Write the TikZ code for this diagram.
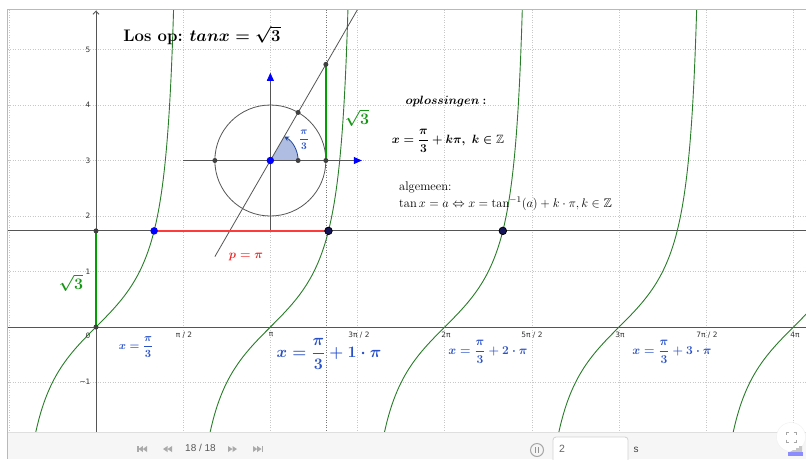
\documentclass[tikz,border=0pt]{standalone}
\usepackage{fix-cm}
\usepackage{amsmath,amssymb}
\usepackage{fontspec}
\newfontfamily\uifont{Liberation Sans}
\newfontfamily\tickfont{DejaVu Sans}
\usetikzlibrary{arrows.meta,calc}
\definecolor{curvegreen}{RGB}{40,125,40}
\definecolor{seggreen}{RGB}{0,160,0}
\definecolor{txtgreen}{RGB}{20,150,20}
\definecolor{txtred}{RGB}{240,40,40}
\definecolor{segred}{RGB}{255,60,60}
\definecolor{lblue}{RGB}{40,80,200}
\definecolor{axisgrey}{RGB}{85,85,85}
\definecolor{gridgrey}{RGB}{200,200,200}
\definecolor{ptgrey}{RGB}{64,64,64}
\definecolor{navy}{RGB}{20,20,90}
\definecolor{sectorfill}{RGB}{160,178,220}
\definecolor{sectorline}{RGB}{30,70,160}
\definecolor{barbg}{RGB}{246,246,246}
\definecolor{iconGrey}{RGB}{170,170,170}
\newcommand{\bm}[1]{{\boldmath$#1$}}
\begin{document}
\begin{tikzpicture}[x=1pt,y=-1pt,
  gridline/.style={draw=gridgrey,line width=0.6pt,dash pattern=on 1pt off 1.5pt},
  axisline/.style={draw=axisgrey,line width=0.9pt},
  thinline/.style={draw=axisgrey,line width=0.8pt},
  curvestyle/.style={draw=curvegreen,line width=0.9pt},
  ptdark/.style={circle,fill=ptgrey,inner sep=0pt,minimum size=5pt},
  ptblue/.style={circle,fill=blue,inner sep=0pt,minimum size=7.5pt},
  ptnavy/.style={circle,fill=navy,draw=black,line width=0.8pt,inner sep=0pt,minimum size=7.5pt},
  ticklbl/.style={font=\tickfont\fontsize{7.4}{8}\selectfont,text=black!80,inner sep=0pt},
  bluetxt/.style={text=lblue,inner sep=0pt},
]
\useasboundingbox (0,0) rectangle (806,459);
\fill[white] (0,0) rectangle (806,459);
\begin{scope}
\clip (7,9) rectangle (806,432);
\begin{scope}[shift={(96pt,-327pt)},x=55.5pt,y=55.5pt]
  \foreach \k in {-1,...,9} \draw[gridline] ({\k*pi/2},-2) -- ({\k*pi/2},6);
  \foreach \j in {-1,...,5} \draw[gridline] (-2,\j) -- (13.5,\j);
  \draw[draw=axisgrey!80,line width=0.7pt,dash pattern=on 1pt off 1.5pt] ({pi+1},-2) -- ({pi+1},6);
  \draw[axisline] (-2,0) -- (13.5,0);
  \draw[axisline,-{Straight Barb[length=3pt,width=6pt]}] (0,-2) -- (0,5.7);
  \draw[axisline] (-2,{sqrt(3)}) -- (13.5,{sqrt(3)});
  \foreach \k in {0,...,4}{
    \draw[curvestyle] plot[variable=\t,domain=-1.95:5.9,samples=110,smooth] ({\k*pi+rad(atan(\t))},\t);
  }
  \coordinate (O) at (0,0);
  \coordinate (S) at (0,{sqrt(3)});
  \coordinate (A) at ({pi/3},{sqrt(3)});
  \coordinate (B) at ({4*pi/3},{sqrt(3)});
  \coordinate (D) at ({7*pi/3},{sqrt(3)});
  \coordinate (C) at ({pi},3);
  \coordinate (CL) at ({pi-1},3);
  \coordinate (CH) at ({pi+0.5},3);
  \coordinate (CR) at ({pi+1},3);
  \coordinate (CP) at ({pi+0.5},{3+sqrt(3)/2});
  \coordinate (CT) at ({pi+1},{3+sqrt(3)});
  \coordinate (VB) at ({pi},{sqrt(3)});
  \coordinate (VT) at ({pi},4.58);
  \coordinate (HL) at (1.57,3);
  \coordinate (HR) at (4.79,3);
  \coordinate (LL) at ($(C)+(240:2)$);
  \coordinate (LU) at ($(C)+(60:3.4)$);
  \draw[thinline] (C) circle[radius=1];
  \fill[sectorfill,opacity=0.85] (C) -- (CH) arc[start angle=0,end angle=60,radius=0.5] -- cycle;
  \draw[draw=sectorline,line width=0.8pt,-{Stealth[length=5pt,width=5pt]}] (CH) arc[start angle=0,end angle=60,radius=0.5];
  \draw[thinline] (LL) -- (LU);
  \draw[thinline,-{Triangle[length=8pt,width=7pt,color=blue]}] (VB) -- (VT);
  \draw[thinline,-{Triangle[length=8pt,width=7pt,color=blue]}] (HL) -- (HR);
  \draw[draw=seggreen,line width=2pt] (CR) -- (CT);
  \draw[draw=seggreen,line width=2pt] (O) -- (S);
  \draw[draw=segred,line width=1.6pt] (A) -- (B);
  \node[ptdark] (pO) at (O) {};
  \node[ptdark] (pS) at (S) {};
  \node[ptblue] (pA) at (A) {};
  \node[ptnavy] (pB) at (B) {};
  \node[ptnavy] (pD) at (D) {};
  \node[ptdark] (pCL) at (CL) {};
  \node[ptdark] (pCH) at (CH) {};
  \node[ptdark] (pCR) at (CR) {};
  \node[ptdark] (pCP) at (CP) {};
  \node[ptdark] (pCT) at (CT) {};
  \node[ptblue] (pC) at (C) {};
\end{scope}
\end{scope}
\node[ticklbl] (y5) at (88,50) {5};
\node[ticklbl] (y4) at (88,105) {4};
\node[ticklbl] (y3) at (88,161) {3};
\node[ticklbl] (y2) at (88,216) {2};
\node[ticklbl] (y1) at (88,272) {1};
\node[ticklbl] (y0) at (88,336) {0};
\node[ticklbl] (ym1) at (85,382) {−1};
\node[ticklbl] (x1) at (184,335) {π / 2};
\node[ticklbl] (x2) at (271,335) {π};
\node[ticklbl] (x3) at (359,335) {3π / 2};
\node[ticklbl] (x4) at (446,335) {2π};
\node[ticklbl] (x5) at (532,335) {5π / 2};
\node[ticklbl] (x6) at (620,335) {3π};
\node[ticklbl] (x7) at (707,335) {7π / 2};
\node[ticklbl] (x8) at (795,335) {4π};
\node[font=\fontsize{16.7}{19}\selectfont,inner sep=0pt] (title) at (202,35) {\textbf{Los op}\textbf{\char58} \bm{tanx=\sqrt{3}}};
\node[font=\fontsize{12}{15}\selectfont,inner sep=0pt] (opl) at (446,101) {\bm{oplossingen}\;\textbf{\char58}};
\node[font=\fontsize{12}{15}\selectfont,inner sep=0pt] (sol) at (448,141) {\bm{x=\dfrac{\pi}{3}+k\pi,\ k\in\mathbb{Z}}};
\node[anchor=west,font=\fontsize{12.5}{14}\selectfont,inner sep=0pt] (alg) at (399,187) {algemeen\char58};
\node[anchor=west,font=\fontsize{12.5}{14}\selectfont,inner sep=0pt] (gen) at (399,204) {$\tan x=a\Leftrightarrow x=\tan^{-1}(a)+k\cdot\pi,k\in\mathbb{Z}$};
\node[bluetxt,font=\fontsize{11}{13}\selectfont] (s0) at (136,347) {\bm{x=\dfrac{\pi}{3}}};
\node[bluetxt,font=\fontsize{16}{19}\selectfont] (s1) at (329,354) {\bm{x=\dfrac{\pi}{3}+1\cdot\pi}};
\node[bluetxt,font=\fontsize{12}{15}\selectfont] (s2) at (488,352) {\bm{x=\dfrac{\pi}{3}+2\cdot\pi}};
\node[bluetxt,font=\fontsize{12}{15}\selectfont] (s3) at (672,352) {\bm{x=\dfrac{\pi}{3}+3\cdot\pi}};
\node[bluetxt,font=\fontsize{10}{12}\selectfont] (ang) at (304,140) {\bm{\dfrac{\pi}{3}}};
\node[text=txtgreen,font=\fontsize{16}{18}\selectfont,inner sep=0pt] (r3a) at (357,118) {\bm{\sqrt{3}}};
\node[text=txtgreen,font=\fontsize{16}{18}\selectfont,inner sep=0pt] (r3b) at (71,283) {\bm{\sqrt{3}}};
\node[text=txtred,font=\fontsize{12}{14}\selectfont,inner sep=0pt] (pp) at (246,257) {\bm{p=\pi}};
\fill[barbg] (7,432) rectangle (806,459);
\draw[gray!25,line width=0.6pt] (7,432) -- (806,432);
\draw[gray!55,line width=0.8pt] (7,459) -- (7,9) -- (806,9);
\fill[iconGrey] (137,446) rectangle (138.5,452);
\fill[iconGrey] (138.5,449) -- (142.8,446) -- (142.8,452) -- cycle;
\fill[iconGrey] (142.8,449) -- (147,446) -- (147,452) -- cycle;
\fill[iconGrey] (163,449) -- (167.5,446) -- (167.5,452) -- cycle;
\fill[iconGrey] (167.5,449) -- (172,446) -- (172,452) -- cycle;
\node[font=\uifont\fontsize{10}{12}\selectfont,text=black!65,inner sep=0pt] (cnt) at (200.5,448) {18 / 18};
\fill[iconGrey] (228,446) -- (232.5,449) -- (228,452) -- cycle;
\fill[iconGrey] (232.5,446) -- (237,449) -- (232.5,452) -- cycle;
\fill[iconGrey] (253,446) -- (257.2,449) -- (253,452) -- cycle;
\fill[iconGrey] (257.2,446) -- (261.5,449) -- (257.2,452) -- cycle;
\fill[iconGrey] (261.5,446) rectangle (263,452);
\node[circle,draw=gray!70,line width=1pt,minimum size=13pt,inner sep=0pt,fill=gray!8] (pause) at (537,450) {};
\fill[gray!85] (534.6,446.8) rectangle (536.3,453.2);
\fill[gray!85] (537.7,446.8) rectangle (539.4,453.2);
\draw[draw=gray!35,fill=white,line width=0.8pt,rounded corners=3pt] (553,461) -- (553,437) -- (628,437) -- (628,461);
\node[font=\uifont\fontsize{10.5}{12}\selectfont,text=black!60,anchor=west,inner sep=0pt] (inp) at (559,449) {2};
\node[font=\uifont\fontsize{10}{12}\selectfont,text=black!75,inner sep=0pt] (sec) at (636,450) {s};
\node[circle,fill=white,draw=gray!12,minimum size=29pt,inner sep=0pt] (fs) at (791,437) {};
\draw[gray!70,line width=1pt] (786,434.5) -- (786,432) -- (788.5,432);
\draw[gray!70,line width=1pt] (793.5,432) -- (796,432) -- (796,434.5);
\draw[gray!70,line width=1pt] (786,439.5) -- (786,442) -- (788.5,442);
\draw[gray!70,line width=1pt] (793.5,442) -- (796,442) -- (796,439.5);
\fill[gray!45] (790,452) -- (802,452) -- (802,446) -- (799,446) -- (799,448) -- (796,448) -- (796,450) -- (793,450) -- cycle;
\fill[blue!45] (788,452) rectangle (803,456);
\end{tikzpicture}
\end{document}
